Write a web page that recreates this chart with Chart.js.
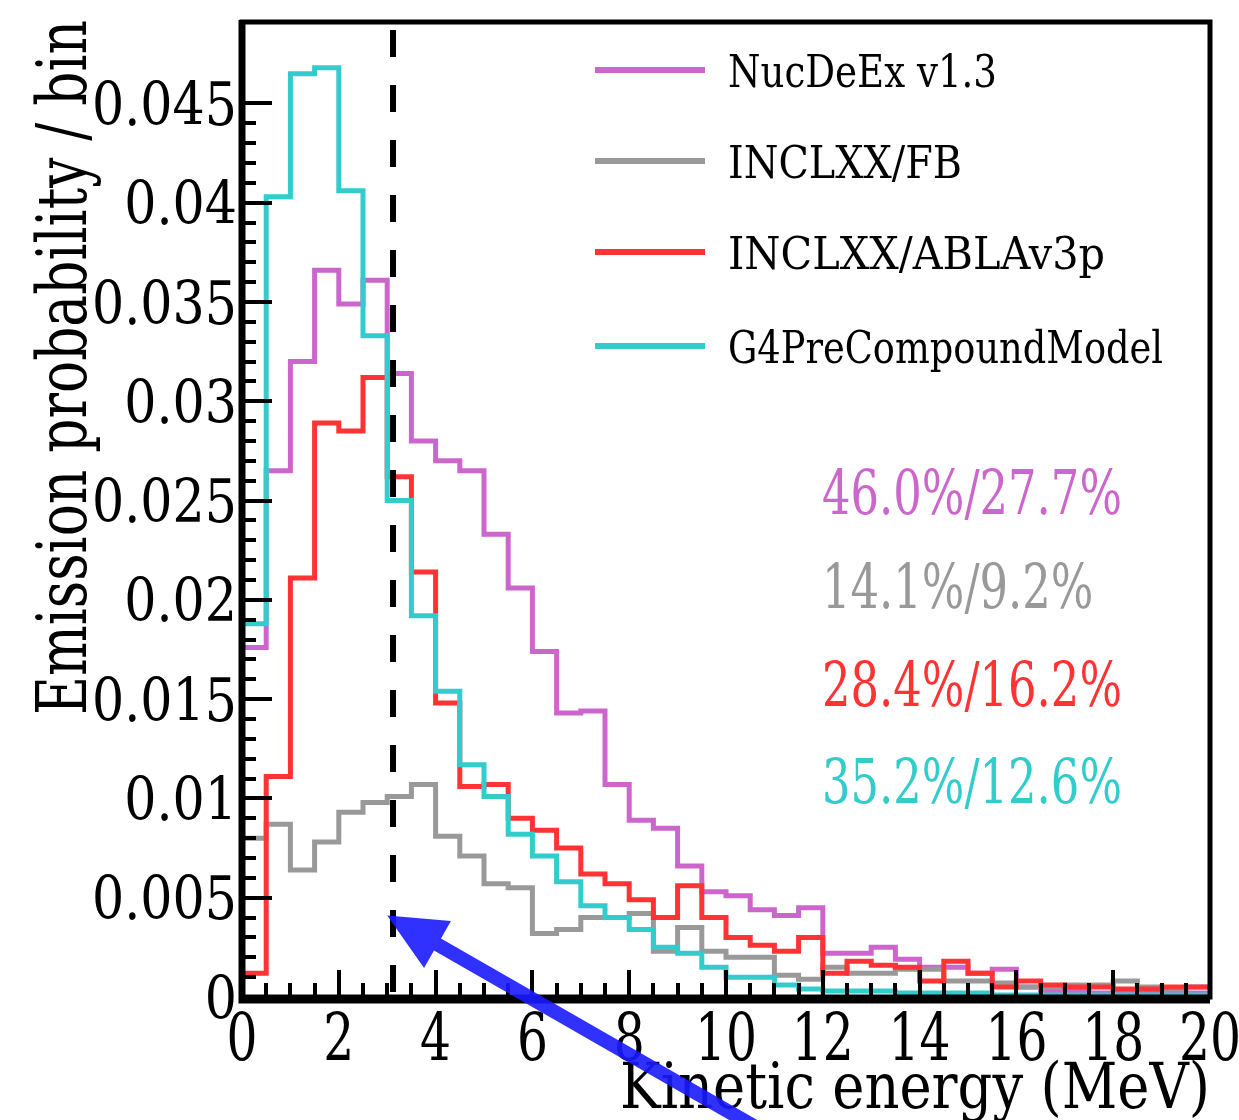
<!DOCTYPE html>
<html>
<head>
<meta charset="utf-8">
<script src="https://cdn.jsdelivr.net/npm/chart.js@4"></script>
<style>
  body { margin: 0; background: #fff; }
  #wrap { width: 1239px; height: 1120px; position: relative; }
</style>
</head>
<body>
<div id="wrap"><canvas id="myChart"></canvas></div>
<script>
// bin edges (MeV), 0.5 MeV bins
const binEdges = [0, 0.5, 1, 1.5, 2, 2.5, 3, 3.5, 4, 4.5, 5, 5.5, 6, 6.5, 7, 7.5, 8, 8.5, 9, 9.5,
  10, 10.5, 11, 11.5, 12, 12.5, 13, 13.5, 14, 14.5, 15, 15.5, 16, 16.5, 17, 17.5, 18, 18.5, 19, 19.5, 20];

const nucdeex = [0.0176, 0.0265, 0.0320, 0.0366, 0.0349, 0.0361, 0.0314, 0.0280, 0.0270, 0.0265,
  0.0233, 0.0206, 0.0174, 0.0143, 0.0144, 0.0107, 0.0089, 0.0085, 0.0066, 0.0053,
  0.0051, 0.0044, 0.0041, 0.0045, 0.0022, 0.0022, 0.0025, 0.0019, 0.0015, 0.0015,
  0.0012, 0.0014, 0.0005, 0.0003, 0.0003, 0.0002, 0.0002, 0.0002, 0.0002, 0.0002];
const inclFB = [0.0080, 0.0087, 0.0064, 0.0078, 0.0093, 0.0098, 0.0101, 0.0107, 0.0081, 0.0071,
  0.0057, 0.0055, 0.0032, 0.0034, 0.0040, 0.0040, 0.0042, 0.0023, 0.0035, 0.0023,
  0.0020, 0.0020, 0.0011, 0.0009, 0.0015, 0.0012, 0.0012, 0.0014, 0.0014, 0.0008,
  0.0008, 0.0007, 0.0005, 0.0005, 0.0006, 0.0006, 0.0008, 0.0005, 0.0004, 0.0005];
const inclABLA = [0.0012, 0.0111, 0.0211, 0.0289, 0.0285, 0.0312, 0.0262, 0.0214, 0.0148, 0.0106,
  0.0107, 0.0090, 0.0084, 0.0075, 0.0062, 0.0057, 0.0049, 0.0040, 0.0056, 0.0040,
  0.0030, 0.0026, 0.0023, 0.0030, 0.0012, 0.0018, 0.0016, 0.0015, 0.0008, 0.0018,
  0.0012, 0.0005, 0.0008, 0.0006, 0.0005, 0.0005, 0.0004, 0.0004, 0.0005, 0.0005];
const g4pre = [0.0188, 0.0403, 0.0465, 0.0468, 0.0406, 0.0333, 0.0250, 0.0192, 0.0154, 0.0117,
  0.0101, 0.0082, 0.0071, 0.0058, 0.0046, 0.0040, 0.0034, 0.0025, 0.0022, 0.0015,
  0.0010, 0.0010, 0.0006, 0.0004, 0.0003, 0.0003, 0.0003, 0.0002, 0.0002, 0.0002,
  0.0002, 0.0001, 0.0001, 0.0001, 0.0001, 0.0001, 0.0001, 0.0001, 0.0001, 0.0001];

const seriesNames = ['NucDeEx v1.3', 'INCLXX/FB', 'INCLXX/ABLAv3p', 'G4PreCompoundModel'];
const seriesColors = ['rgb(204,102,204)', 'rgb(153,153,153)', 'rgb(255,51,51)', 'rgb(51,204,204)'];
const ratioLabels = ['46.0%/27.7%', '14.1%/9.2%', '28.4%/16.2%', '35.2%/12.6%'];

const xTicks = ['0', '2', '4', '6', '8', '10', '12', '14', '16', '18', '20'];
const yTicks = ['0', '0.005', '0.01', '0.015', '0.02', '0.025', '0.03', '0.035', '0.04', '0.045'];
const cutEnergy = 3.12;      // dashed line
const arrowTip = [3.0, 0.0041];

const FONT = '"DejaVu Serif", serif';

// turn bin contents into step points (left edge of every bin, plus the last edge)
function toSteps(vals) {
  let pts = vals.map((v, i) => ({ x: binEdges[i], y: v }));
  pts.push({ x: binEdges[binEdges.length - 1], y: vals[vals.length - 1] });
  return pts;
}

// condensed text: scale x so the string fits a target width
function fitText(ctx, s, x, y, size, width, align, color, rot) {
  ctx.save();
  ctx.font = size + 'px ' + FONT;
  let w = ctx.measureText(s).width;
  let sx = width / w;
  ctx.translate(x, y);
  if (rot) ctx.rotate(rot);
  ctx.scale(sx, 1);
  ctx.fillStyle = color;
  ctx.textAlign = align;
  ctx.textBaseline = 'alphabetic';
  ctx.fillText(s, 0, 0);
  ctx.restore();
  return sx;
}
function scaledText(ctx, s, x, y, size, sx, align, color) {
  ctx.save();
  ctx.font = size + 'px ' + FONT;
  ctx.translate(x, y);
  ctx.scale(sx, 1);
  ctx.fillStyle = color;
  ctx.textAlign = align;
  ctx.textBaseline = 'alphabetic';
  ctx.fillText(s, 0, 0);
  ctx.restore();
}
function widthOf(ctx, s, size) {
  ctx.save();
  ctx.font = size + 'px ' + FONT;
  let w = ctx.measureText(s).width;
  ctx.restore();
  return w;
}

const decorations = {
  id: 'decorations',
  afterDatasetsDraw(chart) {
    const ctx = chart.ctx;
    const xs = chart.scales.x, ys = chart.scales.y;
    const a = chart.chartArea;

    // dashed cut line
    ctx.save();
    ctx.strokeStyle = '#000';
    ctx.lineWidth = 6;
    ctx.setLineDash([27, 28]);
    ctx.lineDashOffset = -8;
    ctx.beginPath();
    ctx.moveTo(xs.getPixelForValue(cutEnergy), a.top);
    ctx.lineTo(xs.getPixelForValue(cutEnergy), a.bottom);
    ctx.stroke();
    ctx.restore();

    // ticks
    ctx.save();
    ctx.strokeStyle = '#000';
    ctx.lineWidth = 4;
    for (let i = 0; i <= 45; i++) {
      let v = i * 0.001;
      let y = Math.round(ys.getPixelForValue(v));
      if (y < a.top) continue;
      let len = (i % 5 === 0) ? 30 : 14;
      ctx.beginPath();
      ctx.moveTo(a.left, y);
      ctx.lineTo(a.left + len, y);
      ctx.stroke();
    }
    for (let i = 0; i < binEdges.length; i++) {
      let x = Math.round(xs.getPixelForValue(binEdges[i]));
      let len = (i % 4 === 0) ? 27 : 14;
      ctx.beginPath();
      ctx.moveTo(x, a.bottom);
      ctx.lineTo(x, a.bottom - len);
      ctx.stroke();
    }
    // frame
    ctx.lineWidth = 5;
    ctx.strokeRect(a.left, a.top, a.right - a.left, a.bottom - a.top);
    ctx.lineWidth = 7;
    ctx.beginPath();
    ctx.moveTo(a.left, a.top - 2);
    ctx.lineTo(a.left, a.bottom + 3);
    ctx.lineTo(a.right, a.bottom + 3);
    ctx.stroke();
    ctx.restore();

    // tick labels
    const ySize = 60, ySx = 145 / widthOf(ctx, '0.045', ySize);
    yTicks.forEach(t => {
      let y = ys.getPixelForValue(parseFloat(t));
      scaledText(ctx, t, a.left - 5, y + ySize * 0.36, ySize, ySx, 'right', '#000');
    });
    const xSize = 66, xSx = 62 / widthOf(ctx, '10', xSize);
    xTicks.forEach(t => {
      let x = xs.getPixelForValue(parseFloat(t));
      scaledText(ctx, t, x, a.bottom + 63, xSize, xSx, 'center', '#000');
    });

    // axis titles
    fitText(ctx, 'Emission probability / bin', 86, 715, 70, 695, 'left', '#000', -Math.PI / 2);
    fitText(ctx, 'Kinetic energy (MeV)', 1210, 1108, 64, 590, 'right', '#000');

    // legend
    const lgSize = 44;
    const lgY = [70, 161, 252, 346];
    const lgW = [269, 234, 377, 435];
    seriesNames.forEach((n, i) => {
      ctx.save();
      ctx.strokeStyle = seriesColors[i];
      ctx.lineWidth = 6;
      ctx.beginPath();
      ctx.moveTo(595, lgY[i]);
      ctx.lineTo(705, lgY[i]);
      ctx.stroke();
      ctx.restore();
      fitText(ctx, n, 728, lgY[i] + 17, lgSize, lgW[i], 'left', '#000');
    });

    // fractions
    const pSize = 62, pSx = 300 / widthOf(ctx, '46.0%/27.7%', pSize);
    const pY = [514, 608, 706, 803];
    ratioLabels.forEach((s, i) => {
      scaledText(ctx, s, 822, pY[i], pSize, pSx, 'left', seriesColors[i]);
    });

    // blue arrow
    const tx = xs.getPixelForValue(arrowTip[0]), ty = ys.getPixelForValue(arrowTip[1]);
    const ang = Math.atan2(205, 357);
    const ux = Math.cos(ang), uy = Math.sin(ang);
    const headLen = 58, headW = 27, shaftW = 7;
    const bx = tx + ux * headLen, by = ty + uy * headLen;
    const far = 500;
    ctx.save();
    ctx.fillStyle = 'rgba(25,25,255,0.9)';
    ctx.beginPath();
    ctx.moveTo(tx, ty);
    ctx.lineTo(bx - uy * headW, by + ux * headW);
    ctx.lineTo(bx - uy * shaftW, by + ux * shaftW);
    ctx.lineTo(bx + ux * far - uy * shaftW, by + uy * far + ux * shaftW);
    ctx.lineTo(bx + ux * far + uy * shaftW, by + uy * far - ux * shaftW);
    ctx.lineTo(bx + uy * shaftW, by - ux * shaftW);
    ctx.lineTo(bx + uy * headW, by - ux * headW);
    ctx.closePath();
    ctx.fill();
    ctx.restore();
  }
};

const datasets = [nucdeex, inclFB, inclABLA, g4pre].map((vals, i) => ({
  label: seriesNames[i],
  data: toSteps(vals),
  borderColor: seriesColors[i],
  borderWidth: 5,
  stepped: 'before',
  pointRadius: 0,
  fill: false,
  order: 3 - i
}));

let ctx = document.getElementById('myChart').getContext('2d');
let chart = new Chart(ctx, {
  type: 'line',
  data: { datasets: datasets },
  options: {
    responsive: true,
    maintainAspectRatio: false,
    animation: false,
    layout: { padding: { left: 242, right: 29, top: 22, bottom: 123 } },
    plugins: { legend: { display: false }, tooltip: { enabled: false } },
    scales: {
      x: { type: 'linear', min: 0, max: 20, display: false },
      y: { type: 'linear', min: 0, max: 0.0491, display: false }
    }
  },
  plugins: [decorations]
});
</script>
</body>
</html>
